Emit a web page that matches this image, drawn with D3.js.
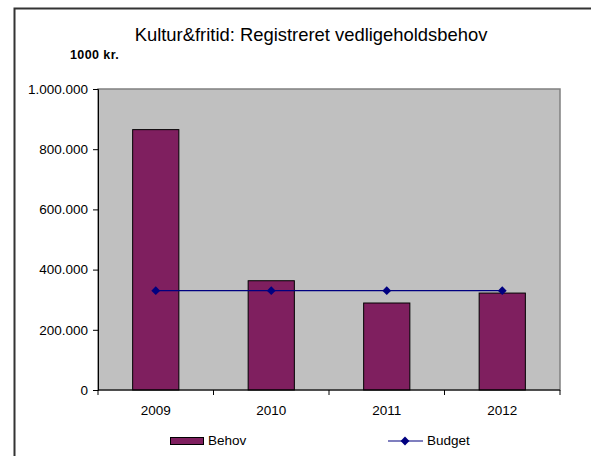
<!DOCTYPE html>
<html>
<head>
<meta charset="utf-8">
<script src="https://cdn.jsdelivr.net/npm/d3@7"></script>
<style>
  body { margin: 0; background: #fff; }
  text { font-family: Arial, "Liberation Sans", sans-serif; fill: #000; }
</style>
</head>
<body>
<script>
// chart data
const years = ["2009", "2010", "2011", "2012"];
const behov = [865000, 363000, 289000, 322000];
const budget = [330000, 330000, 330000, 330000];
const yTicks = [0, 200000, 400000, 600000, 800000, 1000000];

const w = 591;
const h = 456;
const plot = { left: 98, top: 89, right: 560, bottom: 390 };
const fs = "13.5px";

const svg = d3.select("body")
    .append("svg")
    .attr("width", w)
    .attr("height", h);

// outer chart frame (only left + top are inside the picture)
svg.append("path")
    .attr("d", "M14.5," + h + " L14.5,8.5 L" + w + ",8.5")
    .attr("fill", "none")
    .attr("stroke", "#333")
    .attr("stroke-width", 2);

// title
svg.append("text")
    .attr("x", 311)
    .attr("y", 41)
    .attr("text-anchor", "middle")
    .style("font-size", "18.4px")
    .text("Kultur&fritid: Registreret vedligeholdsbehov");

svg.append("text")
    .attr("x", 70)
    .attr("y", 59)
    .style("font-size", "12.5px")
    .style("font-weight", "bold")
    .style("letter-spacing", "0.4px")
    .text("1000 kr.");

// scales
const x = d3.scaleBand()
    .domain(years)
    .range([plot.left, plot.right])
    .paddingInner(0.6)
    .paddingOuter(0.3);

const xLine = d3.scalePoint()
    .domain(years)
    .range([plot.left, plot.right])
    .padding(0.5);

const y = d3.scaleLinear()
    .domain([0, 1000000])
    .range([plot.bottom, plot.top]);

// plot background
svg.append("rect")
    .attr("x", plot.left)
    .attr("y", plot.top)
    .attr("width", plot.right - plot.left)
    .attr("height", plot.bottom - plot.top)
    .attr("fill", "#c0c0c0")
    .attr("stroke", "#808080")
    .attr("stroke-width", 1.5);

// bars
svg.selectAll("rect.bar")
    .data(behov)
    .enter()
    .append("rect")
    .attr("class", "bar")
    .attr("x", (d, i) => x(years[i]))
    .attr("y", d => y(d))
    .attr("width", x.bandwidth())
    .attr("height", d => plot.bottom - y(d))
    .attr("fill", "#7f1f5f")
    .attr("stroke", "#000")
    .attr("stroke-width", 1);

// budget line
const line = d3.line()
    .x((d, i) => xLine(years[i]))
    .y(d => y(d));

svg.append("path")
    .datum(budget)
    .attr("d", line)
    .attr("fill", "none")
    .attr("stroke", "#000080")
    .attr("stroke-width", 1.2);

const diamond = d3.symbol().type(d3.symbolDiamond2).size(50);
svg.selectAll("path.marker")
    .data(budget)
    .enter()
    .append("path")
    .attr("class", "marker")
    .attr("d", diamond)
    .attr("transform", (d, i) => "translate(" + xLine(years[i]) + "," + y(d) + ")")
    .attr("fill", "#000080");

// y axis
const yAxis = d3.axisLeft(y)
    .tickValues(yTicks)
    .tickSize(5)
    .tickPadding(5)
    .tickFormat(d => d3.format(",")(d).replace(/,/g, "."));

const gy = svg.append("g")
    .attr("transform", "translate(" + plot.left + ",0)")
    .call(yAxis);
gy.select(".domain").attr("stroke", "#000");
gy.selectAll("text").style("font-size", fs).style("font-family", "Arial, 'Liberation Sans', sans-serif");

// x axis: labels under categories, ticks at category boundaries
const gx = svg.append("g")
    .attr("transform", "translate(0," + plot.bottom + ")");
gx.append("line")
    .attr("x1", plot.left)
    .attr("x2", plot.right)
    .attr("stroke", "#000");
const step = (plot.right - plot.left) / years.length;
gx.selectAll("line.tick")
    .data(d3.range(years.length + 1))
    .enter()
    .append("line")
    .attr("class", "tick")
    .attr("x1", i => plot.left + i * step)
    .attr("x2", i => plot.left + i * step)
    .attr("y1", 0)
    .attr("y2", 5)
    .attr("stroke", "#000");
gx.selectAll("text")
    .data(years)
    .enter()
    .append("text")
    .attr("x", d => xLine(d))
    .attr("y", 25)
    .attr("text-anchor", "middle")
    .style("font-size", fs)
    .text(d => d);

// legend
const leg = svg.append("g");
leg.append("rect")
    .attr("x", 170.5)
    .attr("y", 437.5)
    .attr("width", 33)
    .attr("height", 7)
    .attr("fill", "#7f1f5f")
    .attr("stroke", "#000");
leg.append("text")
    .attr("x", 208)
    .attr("y", 445)
    .style("font-size", fs)
    .text("Behov");
leg.append("line")
    .attr("x1", 388)
    .attr("x2", 423)
    .attr("y1", 441)
    .attr("y2", 441)
    .attr("stroke", "#000080")
    .attr("stroke-width", 1.2);
leg.append("path")
    .attr("d", diamond)
    .attr("transform", "translate(405,441)")
    .attr("fill", "#000080");
leg.append("text")
    .attr("x", 427)
    .attr("y", 445)
    .style("font-size", fs)
    .text("Budget");
</script>
</body>
</html>
